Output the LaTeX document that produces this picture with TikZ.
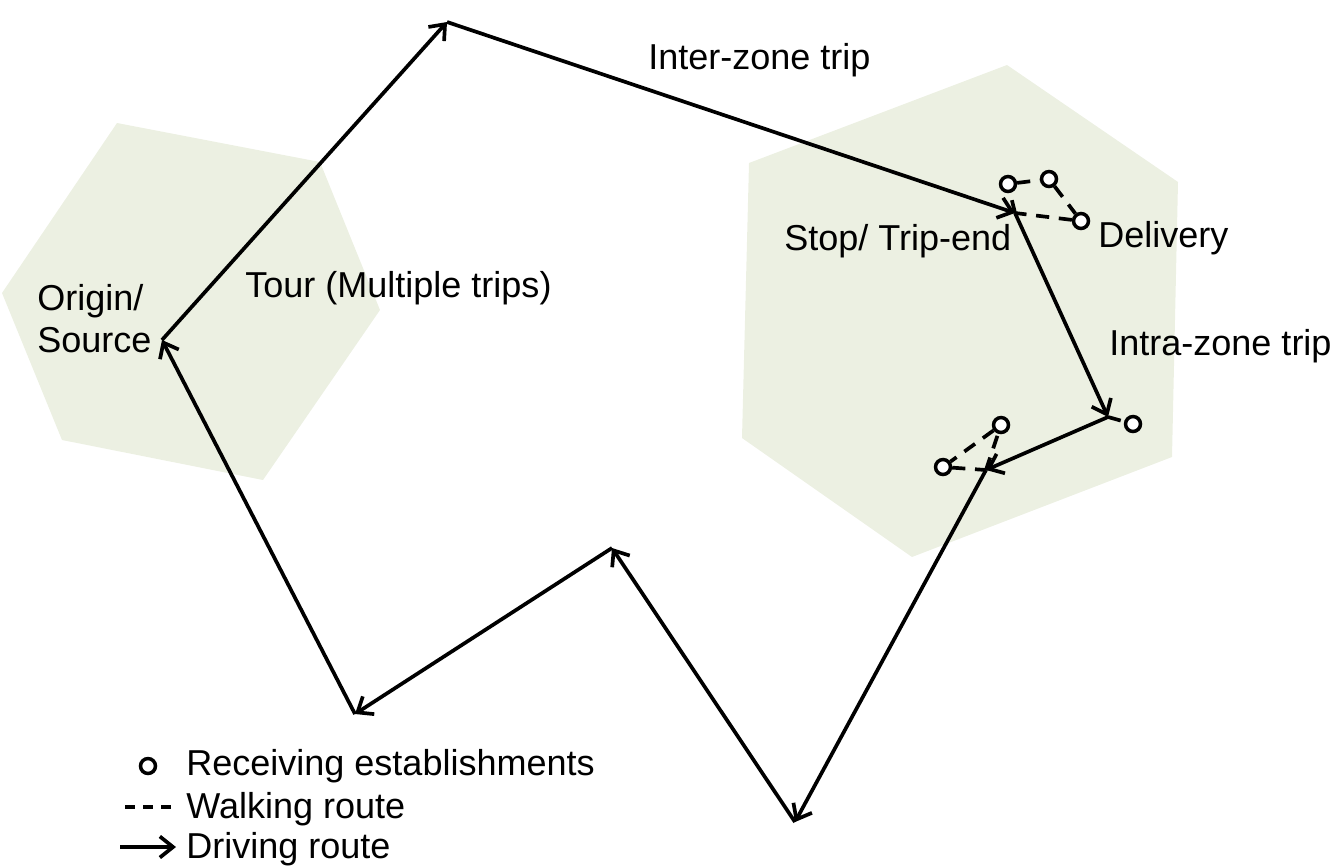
\documentclass[tikz,border=0pt]{standalone}
\usepackage{fontspec}
\setmainfont{Liberation Sans}
\usetikzlibrary{arrows.meta}
\definecolor{zonefill}{RGB}{236,240,226}
\begin{document}
\begin{tikzpicture}[x=0.02cm, y=-0.02cm,
  drive/.style={line width=2.1pt, -{Straight Barb[length=7.5pt,width=12pt]}},
  walk/.style={line width=2.1pt, dash pattern=on 7.5pt off 5.5pt},
  legendwalk/.style={walk, dash pattern=on 5.8pt off 4.5pt},
  est/.style={circle, draw, fill=white, line width=2pt, minimum size=8.5pt, inner sep=0pt},
  lbl/.style={font=\fontsize{20.5}{24}\selectfont, inner sep=0pt, anchor=base west},
]
\useasboundingbox (0,0) rectangle (1332,866);

% zones
\fill[zonefill] (117,123) -- (320,162) -- (380,310) -- (263,480) -- (62,440) -- (2,293) -- cycle;
\fill[zonefill] (1007,65) -- (1178,182) -- (1172,457) -- (912,557) -- (742,438) -- (749,163) -- cycle;

% tour vertices
\coordinate (O) at (162,340);
\coordinate (T) at (447,22);
\coordinate (S) at (1015,213);
\coordinate (P1) at (1108,417);
\coordinate (P2) at (986,470);
\coordinate (B) at (795,822);
\coordinate (M) at (612,548);
\coordinate (L) at (355,714);

% receiving establishments
\node[est] (c1) at (1008,184) {};
\node[est] (c2) at (1049,179) {};
\node[est] (c3) at (1081,221) {};
\node[est] (c4) at (1133,424) {};
\node[est] (cA) at (1001,425) {};
\node[est] (cB) at (943,467) {};

% walking routes
\draw[walk] (S) -- (c1);
\draw[walk] (c1) -- (c2);
\draw[walk] (c2) -- (c3);
\draw[walk] (c3) -- (S);
\draw[walk] (P1) -- (c4);
\draw[walk] (P2) -- (cA);
\draw[walk] (cA) -- (cB);
\draw[walk] (cB) -- (P2);

% driving routes
\draw[drive] (O) -- (T);
\draw[drive] (T) -- (S);
\draw[drive] (S) -- (P1);
\draw[drive] (P1) -- (P2);
\draw[drive] (P2) -- (B);
\draw[drive] (B) -- (M);
\draw[drive] (M) -- (L);
\draw[drive] (L) -- (O);

% labels
\node[lbl] (inter) at (648,69) {Inter-zone trip};
\node[lbl] (tour) at (245,297) {Tour (Multiple trips)};
\node[lbl] (orig1) at (37,310) {Origin/};
\node[lbl] (orig2) at (37,352) {Source};
\node[lbl] (stop) at (784,250) {Stop/ Trip-end};
\node[lbl] (deliv) at (1098,247) {Delivery};
\node[lbl] (intra) at (1109,355) {Intra-zone trip};

% legend
\node[est] (lc) at (148,766) {};
\coordinate (lw1) at (125,807);
\coordinate (lw2) at (172,807);
\coordinate (ld1) at (120,847);
\coordinate (ld2) at (176,847);
\draw[legendwalk] (lw1) -- (lw2);
\draw[drive] (ld1) -- (ld2);
\node[lbl] (lrec) at (186,775) {Receiving establishments};
\node[lbl] (lwalk) at (186,818) {Walking route};
\node[lbl] (ldrive) at (186,858) {Driving route};
\end{tikzpicture}
\end{document}
